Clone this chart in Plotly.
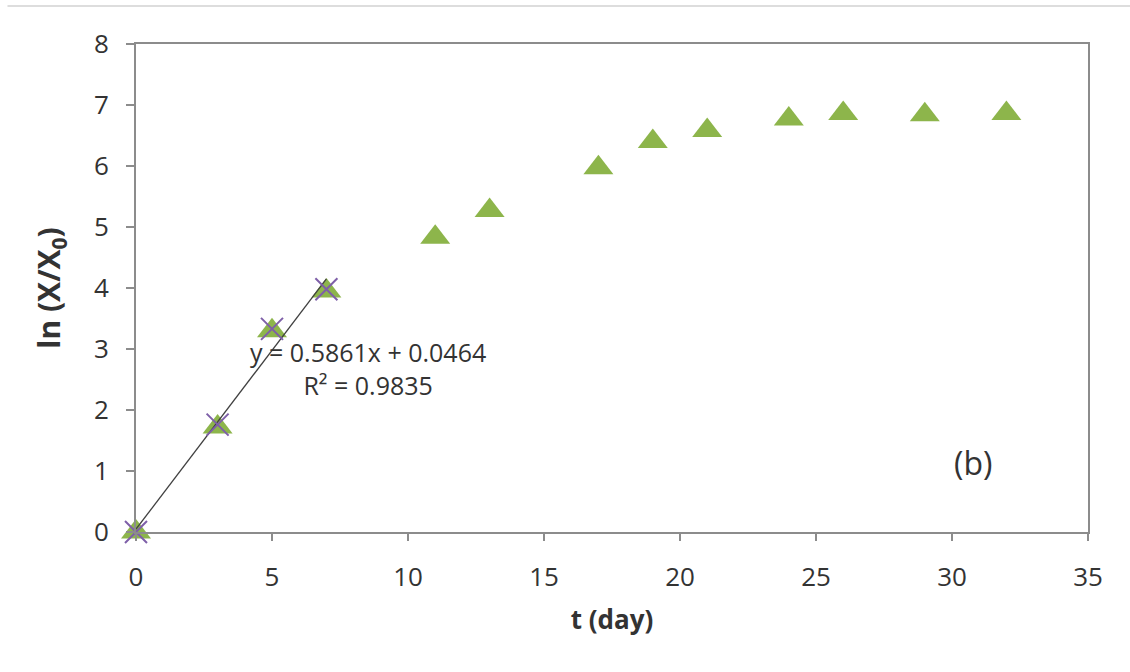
import plotly.graph_objects as go

# Data
t_days = [0, 3, 5, 7, 11, 13, 17, 19, 21, 24, 26, 29, 32]
ln_ratio = [0.0, 1.72, 3.30, 3.95, 4.83, 5.27, 5.97, 6.40, 6.58, 6.77, 6.86, 6.84, 6.86]
fit_t = [0, 3, 5, 7]
fit_ln = [0.0, 1.76, 3.33, 3.98]
slope = 0.5861
intercept = 0.0464
r2 = 0.9835
x_ticks = [0, 5, 10, 15, 20, 25, 30, 35]
y_ticks = [0, 1, 2, 3, 4, 5, 6, 7, 8]

line_x = [min(fit_t), max(fit_t)]
line_y = [slope * v + intercept for v in line_x]

FONT = "Open Sans"
TXT = "#333333"
fig = go.Figure()
fig.add_trace(go.Scatter(x=t_days, y=ln_ratio, mode="markers",
                         marker=dict(symbol="triangle-up", size=26, color="#8db54b",
                                     line=dict(width=0)),
                         cliponaxis=False, showlegend=False))
fig.add_trace(go.Scatter(x=line_x, y=line_y, mode="lines",
                         line=dict(color="#404040", width=1.3),
                         cliponaxis=False, showlegend=False))
fig.add_trace(go.Scatter(x=fit_t, y=fit_ln, mode="markers",
                         marker=dict(symbol="x-thin", size=22, color="#7e5fa8",
                                     line=dict(width=2, color="#7e5fa8")),
                         cliponaxis=False, showlegend=False))

fig.add_annotation(x=0.244, y=0.336, xref="paper", yref="paper", showarrow=False,
                   xanchor="center", yanchor="middle",
                   text=f"y = {slope}x + {intercept}<br>R² = {r2}",
                   font=dict(family=FONT, size=25, color=TXT), align="center")
fig.add_annotation(x=0.879, y=0.143, xref="paper", yref="paper", showarrow=False,
                   xanchor="center", yanchor="middle",
                   text="(b)", font=dict(family=FONT, size=32, color=TXT))

# faint page line at the top
fig.add_shape(type="line", xref="paper", yref="paper",
              x0=-0.135, x1=1.05, y0=1.078, y1=1.078,
              line=dict(color="#dddddd", width=2))

fig.update_layout(
    width=1130, height=672,
    margin=dict(l=136, r=42, t=44, b=140),
    paper_bgcolor="white", plot_bgcolor="white",
    font=dict(family=FONT, size=26, color=TXT),
)
fig.update_xaxes(range=[0, 35], tickvals=x_ticks, showgrid=False, zeroline=False,
                 showline=True, linecolor="#8c8c8c", linewidth=2, mirror=True,
                 ticks="outside", ticklen=7, tickcolor="#8c8c8c", tickwidth=1.5,
                 ticklabelstandoff=14,
                 title=dict(text="<b>t (day)</b>", font=dict(size=26), standoff=18))
fig.update_yaxes(range=[0, 8], tickvals=y_ticks, showgrid=False, zeroline=False,
                 showline=True, linecolor="#8c8c8c", linewidth=2, mirror=True,
                 ticks="outside", ticklen=8, tickcolor="#8c8c8c", tickwidth=1.5,
                 ticklabelstandoff=12,
                 title=dict(text="<b>ln (X/X<sub>0</sub>)</b>", font=dict(size=30), standoff=24))

fig.write_html("out.html")
